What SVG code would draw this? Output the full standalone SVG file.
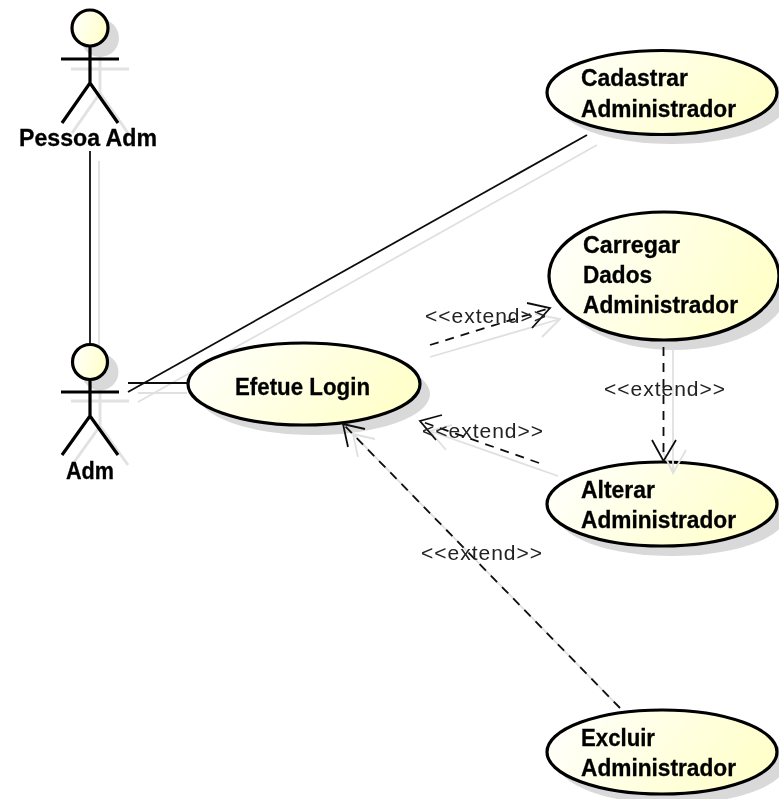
<svg xmlns="http://www.w3.org/2000/svg" width="779" height="799" viewBox="0 0 779 799">
<style>
.uc{fill:url(#g);stroke:#000;stroke-width:3.2}
.sh{fill:#d9d9d9;stroke:none}
.a{fill:none;stroke:#000;stroke-width:3.2;stroke-linecap:butt}
.as{fill:none;stroke:#e2e2e2;stroke-width:3}
.h{fill:url(#g);stroke:#000;stroke-width:3.2}
.c{fill:none;stroke:#111;stroke-width:1.8}
.d{stroke-dasharray:9 7}
.cs{fill:none;stroke:#e0e0e0;stroke-width:1.8}
.b{font:bold 23.500px "Liberation Sans",Arial,sans-serif;fill:#000;stroke:#000;stroke-width:.3}
.l{font:21px "Liberation Sans",Arial,sans-serif;fill:#222}
</style>
<defs>
<linearGradient id="g" x1="0" y1="0" x2="1" y2="0.3"><stop offset="0" stop-color="#ffffff"/><stop offset="1" stop-color="#ffffcc"/></linearGradient>
<filter id="s" x="-5%" y="-5%" width="110%" height="110%"><feGaussianBlur stdDeviation="0.45"/></filter>
</defs>
<rect width="779" height="799" fill="#fff"/>
<g filter="url(#s)">
<g id="connector-back-shadows">
<path class="cs" d="M99 161V347"/>
<path class="cs" d="M138 402L597 145M138 393H187"/>
</g>
<g id="actor-pessoa-adm">
<path class="as" d="M71 69H129M100 56V93L72 133M100 93L128 133"/>
<circle class="sh" cx="100" cy="38" r="19"/>
<circle class="h" cx="90" cy="28" r="18"/>
<path class="a" d="M61 59H119M90 46V83L62 123M90 83L118 123"/>
<text class="b" x="19" y="146" textLength="138" lengthAdjust="spacingAndGlyphs">Pessoa Adm</text>
</g>
<g id="actor-adm">
<path class="as" d="M71 401H129M100 389V426L72 465M100 426L128 465"/>
<circle class="sh" cx="100" cy="372" r="18.500"/>
<circle class="h" cx="90" cy="362" r="17.500"/>
<path class="a" d="M61 392H119M90 380V416L62 455M90 416L118 455"/>
<text class="b" x="66" y="479" textLength="48" lengthAdjust="spacingAndGlyphs">Adm</text>
</g>
<g id="uc-efetue-login">
<ellipse class="sh" cx="314" cy="394" rx="116" ry="41"/>
<ellipse class="uc" cx="304" cy="384" rx="116" ry="41"/>
<text class="b" x="235" y="395" textLength="135" lengthAdjust="spacingAndGlyphs">Efetue Login</text>
</g>
<g id="uc-cadastrar">
<ellipse class="sh" cx="672" cy="102" rx="115" ry="42"/>
<ellipse class="uc" cx="662" cy="92.500" rx="115" ry="42"/>
<text class="b" x="581" y="86" textLength="107" lengthAdjust="spacingAndGlyphs">Cadastrar</text>
<text class="b" x="581" y="117" textLength="155" lengthAdjust="spacingAndGlyphs">Administrador</text>
</g>
<g id="uc-carregar">
<ellipse class="sh" cx="674" cy="286" rx="115" ry="64"/>
<ellipse class="uc" cx="664" cy="276" rx="115" ry="64"/>
<text class="b" x="583" y="253" textLength="97" lengthAdjust="spacingAndGlyphs">Carregar</text>
<text class="b" x="583" y="283" textLength="69" lengthAdjust="spacingAndGlyphs">Dados</text>
<text class="b" x="583" y="313" textLength="155" lengthAdjust="spacingAndGlyphs">Administrador</text>
</g>
<g id="uc-alterar">
<ellipse class="sh" cx="672" cy="514" rx="115" ry="42"/>
<ellipse class="uc" cx="662" cy="504" rx="115" ry="42"/>
<text class="b" x="581" y="498" textLength="74" lengthAdjust="spacingAndGlyphs">Alterar</text>
<text class="b" x="581" y="528" textLength="155" lengthAdjust="spacingAndGlyphs">Administrador</text>
</g>
<g id="uc-excluir">
<ellipse class="sh" cx="672" cy="762" rx="115" ry="42"/>
<ellipse class="uc" cx="662" cy="752" rx="115" ry="42"/>
<text class="b" x="581" y="746" textLength="74" lengthAdjust="spacingAndGlyphs">Excluir</text>
<text class="b" x="581" y="776" textLength="155" lengthAdjust="spacingAndGlyphs">Administrador</text>
</g>
<g id="connectors">
<g id="connector-shadows">
<path class="cs" d="M430 357L560 319M535 314L560 319L542 337"/>
<path class="cs" d="M673 349V473M662 450L673 473L686 450"/>
<path class="cs" d="M558 476L430 431M452 425L430 431L446 450"/>
<path class="cs" d="M620 708L353 434M375 439L353 434L358 457"/>
</g>
<path class="c" d="M90 151V343"/>
<path class="c" d="M128 392L587 135M128 383H188"/>
<path class="c d" d="M430 345L550 308"/>
<path class="c" d="M527 303L550 308L532 328"/>
<path class="c d" d="M663.500 347V461"/>
<path class="c" d="M652 440L663.500 461L676 440"/>
<path class="c d" d="M539 463L420 421"/>
<path class="c" d="M442 415L420 421L436 440"/>
<path class="c d" d="M620 708L343 424"/>
<path class="c" d="M365 429L343 424L348 447"/>
</g>
<g id="labels">
<text class="l" x="425" y="323" textLength="121">&lt;&lt;extend&gt;&gt;</text>
<text class="l" x="604" y="396" textLength="121">&lt;&lt;extend&gt;&gt;</text>
<text class="l" x="422" y="438" textLength="121">&lt;&lt;extend&gt;&gt;</text>
<text class="l" x="421" y="560" textLength="121">&lt;&lt;extend&gt;&gt;</text>
</g>
</g>
</svg>
